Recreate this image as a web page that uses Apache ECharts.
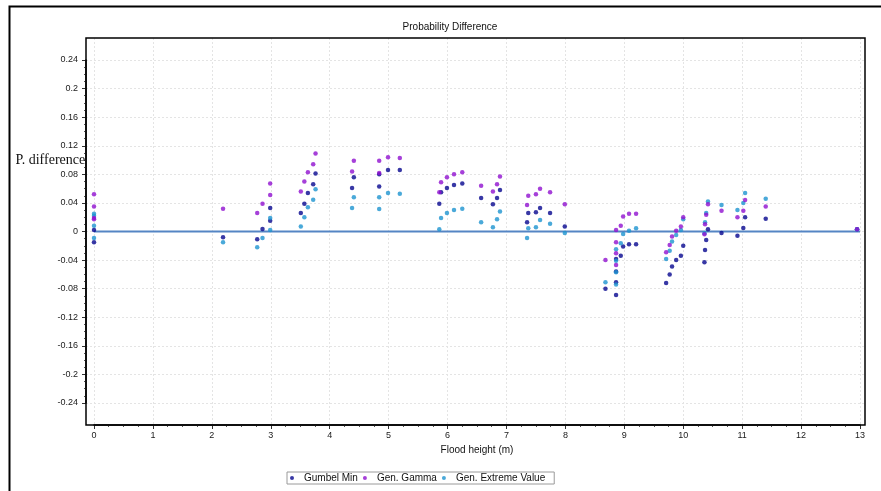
<!DOCTYPE html>
<html><head><meta charset="utf-8">
<script src="https://cdn.jsdelivr.net/npm/echarts@6/dist/echarts.min.js"></script>
<style>html,body{margin:0;padding:0;background:#fff}#c{width:881px;height:491px}</style>
</head><body><div id="c"></div>
<script>
const titleText = 'Probability Difference';
const xName = 'Flood height (m)';
const yName = 'P. difference';
const seriesNames = ['Gumbel Min', 'Gen. Gamma', 'Gen. Extreme Value'];
const xMin = 0, xMax = 13, xStep = 1;
const yMin = -0.24, yMax = 0.24, yStep = 0.04;
const refLineX = [0, 13];
const refLineY = [0, 0];

const gumbelX = [0,0, 2.19, 2.77, 2.86, 2.99,2.99, 3.51,3.57,3.63,3.72,3.76, 4.38,4.41, 4.84,4.84, 4.99, 5.19, 5.86,5.89, 5.99,6.11,6.25, 6.57,6.77,6.84,6.89, 7.35,7.37,7.50,7.57,7.74,7.99, 8.68, 8.86,8.86,8.86,8.86, 8.94,8.98,9.08,9.20, 9.71,9.77,9.81,9.88,9.96,10.0, 10.36,10.37,10.39,10.42, 10.65, 10.92,11.02,11.05, 11.40, 12.95];
const gumbelY = [0.002,-0.015, -0.008, -0.011, 0.0035, 0.033,0.015, 0.026,0.039,0.054,0.066,0.081, 0.061,0.076, 0.080,0.063, 0.086, 0.086, 0.039,0.055, 0.061,0.065,0.067, 0.047,0.038,0.047,0.058, 0.013,0.026,0.027,0.033,0.026,0.007, -0.080, -0.0385,-0.056,-0.071,-0.089, -0.034,-0.021,-0.018,-0.018, -0.072,-0.060,-0.049,-0.040,-0.034,-0.020, -0.043,-0.026,-0.012,0.003, -0.002, -0.006,0.005,0.020, 0.018, 0.003];

const gammaX = [0,0,0,0, 2.19, 2.77, 2.86, 2.99,2.99, 3.51,3.57,3.63,3.72,3.76, 4.38,4.41, 4.84,4.84, 4.99, 5.19, 5.86,5.89, 5.99,6.11,6.25, 6.57,6.77,6.84,6.89, 7.35,7.37,7.50,7.57,7.74,7.99, 8.68, 8.86,8.86,8.86,8.86, 8.94,8.98,9.08,9.20, 9.71,9.77,9.81,9.88,9.96,10.0, 10.36,10.37,10.39,10.42, 10.65, 10.92,11.02,11.05, 11.40, 12.95];
const gammaY = [0.052,0.035,0.019,0.017, 0.032, 0.026, 0.039, 0.067,0.051, 0.056,0.070,0.083,0.094,0.109, 0.084,0.099, 0.099,0.082, 0.104, 0.103, 0.055,0.069, 0.076,0.080,0.083, 0.064,0.056,0.066,0.077, 0.037,0.050,0.052,0.060,0.055,0.038, -0.040, 0.002,-0.015,-0.0305,-0.047, 0.008,0.021,0.025,0.025, -0.029,-0.019,-0.007,0.001,0.007,0.020, -0.004,0.010,0.0235,0.038, 0.029, 0.020,0.029,0.044, 0.035, 0.003];

const gevX = [0,0,0,0, 2.19, 2.77, 2.86, 2.99,2.99, 3.51,3.57,3.63,3.72,3.76, 4.38,4.41, 4.84,4.84, 4.99, 5.19, 5.86,5.89, 5.99,6.11,6.25, 6.57,6.77,6.84,6.89, 7.35,7.37,7.50,7.57,7.74,7.99, 8.68, 8.86,8.86,8.86,8.86, 8.94,8.98,9.08,9.20, 9.71,9.77,9.81,9.88,9.96,10.0, 10.36,10.37,10.39,10.42, 10.65, 10.92,11.02,11.05, 11.40, 12.95];
const gevY = [0.025,0.022,0.008,-0.009, -0.015, -0.022, -0.009, 0.019,0.002, 0.007,0.020,0.034,0.0445,0.059, 0.033,0.048, 0.048,0.0315, 0.054, 0.053, 0.003,0.019, 0.026,0.030,0.032, 0.013,0.006,0.017,0.028, -0.009,0.0045,0.006,0.016,0.011,-0.002, -0.071, -0.025,-0.041,-0.057,-0.074, -0.0165,-0.0035,0.001,0.0045, -0.0385,-0.027,-0.014,-0.005,0.002,0.017, -0.0025,0.013,0.026,0.042, 0.037, 0.030,0.040,0.054, 0.046, 0.003];

const colors = ['#06068f', '#9010d0', '#1d93d0'];
const zip = (xs, ys) => xs.map((x, i) => [x, ys[i]]);
const font = 'Liberation Sans, Arial, sans-serif';
const gridLineStyle = { color: '#e4e4e4', type: [2, 2], width: 1 };

const chart = echarts.init(document.getElementById('c'), null, { renderer: 'canvas' });
chart.setOption({
  animation: false,
  backgroundColor: '#fff',
  title: {
    text: titleText, left: 450, top: 22, textAlign: 'center', padding: 0,
    textStyle: { fontSize: 10, fontWeight: 'normal', fontFamily: font, color: '#111' }
  },
  legend: {
    data: seriesNames, left: 287, top: 472, orient: 'horizontal',
    borderColor: '#9a9a9a', borderWidth: 1, padding: [1, 9, 1, 3],
    itemGap: 5, itemWidth: 14, itemHeight: 4, icon: 'circle',
    textStyle: { fontSize: 10, fontFamily: font, color: '#111', width: 82 }
  },
  grid: [
    { left: 94, right: 21, top: 60, bottom: 88 },
    { left: 94, right: 21, top: 38, bottom: 66 },
    { left: 86, right: 16, top: 60, bottom: 88 }
  ],
  xAxis: [
    {
      gridIndex: 0, type: 'value', min: xMin, max: xMax, interval: xStep, offset: 22,
      name: xName, nameLocation: 'middle', nameGap: 16,
      nameTextStyle: { fontSize: 10, fontFamily: font, color: '#111' },
      axisLine: { show: true, onZero: false, lineStyle: { color: '#000', width: 1.5 } },
      axisTick: { show: true, length: 4, lineStyle: { color: '#333' } },
      minorTick: { show: true, splitNumber: 4, length: 2, lineStyle: { color: '#555' } },
      axisLabel: { fontSize: 9, fontFamily: font, color: '#1a1a1a', margin: 6 },
      splitLine: { show: false }
    },
    {
      gridIndex: 1, type: 'value', min: xMin, max: xMax, interval: xStep,
      axisLine: { show: false, onZero: false }, axisTick: { show: false }, axisLabel: { show: false },
      splitLine: { show: true, lineStyle: gridLineStyle }
    },
    { gridIndex: 2, type: 'value', min: xMin, max: xMax, show: false, axisLine: { onZero: false } }
  ],
  yAxis: [
    {
      gridIndex: 0, type: 'value', min: yMin, max: yMax, interval: yStep, offset: 8,
      axisLine: { show: true, onZero: false, lineStyle: { color: '#000', width: 1.5 } },
      axisTick: { show: true, length: 4, lineStyle: { color: '#333' } },
      minorTick: { show: true, splitNumber: 4, length: 2, lineStyle: { color: '#555' } },
      axisLabel: { fontSize: 9, fontFamily: font, color: '#1a1a1a', margin: 8 },
      splitLine: { show: false }
    },
    { gridIndex: 1, type: 'value', min: yMin, max: yMax, show: false, axisLine: { onZero: false } },
    {
      gridIndex: 2, type: 'value', min: yMin, max: yMax, interval: yStep,
      axisLine: { show: false, onZero: false }, axisTick: { show: false }, axisLabel: { show: false },
      splitLine: { show: true, lineStyle: gridLineStyle }
    }
  ],
  graphic: [
    { type: 'rect', z: 1, silent: true, shape: { x: 9.5, y: 6.5, width: 1000, height: 1000 },
      style: { fill: 'none', stroke: '#000', lineWidth: 2 } },
    { type: 'rect', z: 1, silent: true, shape: { x: 86, y: 38, width: 779, height: 387 },
      style: { fill: 'none', stroke: '#000', lineWidth: 1.5 } },
    { type: 'text', z: 10, x: 15.5, y: 160,
      style: { text: yName, font: '14px "Liberation Serif", "Times New Roman", serif', fill: '#111',
               textAlign: 'left', textVerticalAlign: 'middle', align: 'left', verticalAlign: 'middle' } }
  ],
  series: [
    { type: 'line', xAxisIndex: 0, yAxisIndex: 0, data: zip(refLineX, refLineY), showSymbol: false,
      symbol: 'none', lineStyle: { color: '#5585c4', width: 2 }, z: 1, silent: true },
    { name: seriesNames[0], type: 'scatter', xAxisIndex: 0, yAxisIndex: 0, data: zip(gumbelX, gumbelY),
      symbol: 'circle', symbolSize: 4.5, itemStyle: { color: colors[0] }, z: 3 },
    { name: seriesNames[1], type: 'scatter', xAxisIndex: 0, yAxisIndex: 0, data: zip(gammaX, gammaY),
      symbol: 'circle', symbolSize: 4.5, itemStyle: { color: colors[1] }, z: 4 },
    { name: seriesNames[2], type: 'scatter', xAxisIndex: 0, yAxisIndex: 0, data: zip(gevX, gevY),
      symbol: 'circle', symbolSize: 4.5, itemStyle: { color: colors[2] }, z: 3 }
  ]
});
</script></body></html>
